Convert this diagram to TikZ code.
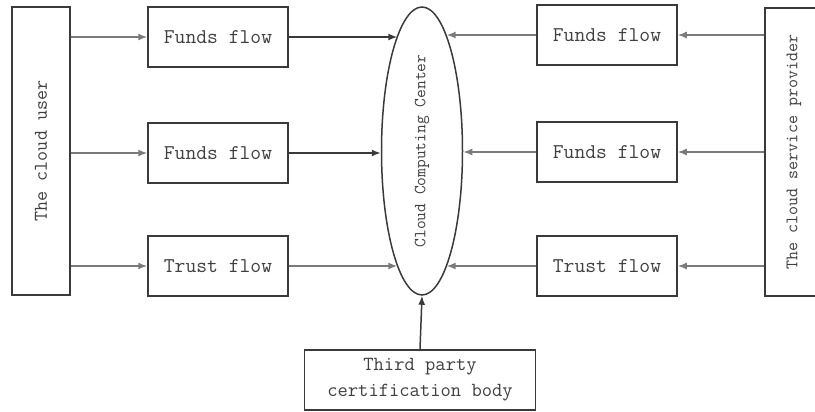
\documentclass[tikz,border=0pt]{standalone}
\usepackage{tikz}
\usetikzlibrary{arrows.meta,shapes.geometric}
\definecolor{lineg}{HTML}{3A3A3A}
\definecolor{arrg}{HTML}{7A7A7A}
\definecolor{txtg}{HTML}{3F3F3F}
\newcommand{\vtxt}[1]{\rotatebox{90}{#1}}
\tikzset{
  sidebox/.style={draw=lineg, line width=1.5pt, minimum width=58pt, minimum height=288pt,
                  inner sep=0pt, text=txtg, font=\ttfamily\fontsize{19.5}{22}\selectfont},
  flowbox/.style={draw=lineg, line width=1.5pt, minimum width=140pt, minimum height=60pt,
                  inner sep=0pt, text=txtg, font=\ttfamily\fontsize{21}{24}\selectfont},
  certbox/.style={draw=lineg, line width=1.5pt, minimum width=231pt, minimum height=60pt,
                  inner sep=0pt, align=center, text=txtg, font=\ttfamily\fontsize{20}{26}\selectfont},
  centre/.style={draw=lineg, line width=1.5pt, ellipse, minimum width=81pt, minimum height=288pt,
                 inner sep=0pt, text=txtg, font=\ttfamily\fontsize{17}{19}\selectfont},
  arr/.style={-{Latex[length=9pt,width=7pt]}, line width=1.5pt, color=lineg},
  garr/.style={-{Latex[length=9pt,width=7pt]}, line width=1.5pt, color=arrg}}
\begin{document}
\begin{tikzpicture}[x=1pt, y=-1pt]
  \useasboundingbox (0,0) rectangle (815,412);
  \node[sidebox] (cu) at (41,151) {\vtxt{The cloud user}};
  \node[sidebox, font=\ttfamily\fontsize{17.5}{19}\selectfont] (sp) at (794,152) {\vtxt{The cloud service provider}};
  \node[centre] (cc) at (422,151) {\vtxt{Cloud Computing Center}};
  \node[flowbox] (lf1) at (218,37) {Funds flow};
  \node[flowbox] (lf2) at (218,153) {Funds flow};
  \node[flowbox] (lf3) at (218,266) {Trust flow};
  \node[flowbox] (rf1) at (607,35) {Funds flow};
  \node[flowbox] (rf2) at (607,152) {Funds flow};
  \node[flowbox] (rf3) at (607,266) {Trust flow};
  \node[certbox] (tp) at (420,380) {Third party\\certification body};
  \draw[garr] (lf1.west -| cu.east) -- (lf1.west);
  \draw[garr] (lf2.west -| cu.east) -- (lf2.west);
  \draw[garr] (lf3.west -| cu.east) -- (lf3.west);
  \draw[arr] (lf1.east) -- (lf1.east -| cc.102);
  \draw[arr] (lf2.east) -- (lf2.east -| cc.west);
  \draw[garr] (lf3.east) -- (lf3.east -| cc.258);
  \draw[garr] (rf1.east -| sp.west) -- (rf1.east);
  \draw[garr] (rf2.east -| sp.west) -- (rf2.east);
  \draw[garr] (rf3.east -| sp.west) -- (rf3.east);
  \draw[garr] (rf1.west) -- (rf1.west -| cc.78);
  \draw[garr] (rf2.west) -- (rf2.west -| cc.east);
  \draw[garr] (rf3.west) -- (rf3.west -| cc.282);
  \draw[arr] (tp.north) -- (cc.south);
\end{tikzpicture}
\end{document}
